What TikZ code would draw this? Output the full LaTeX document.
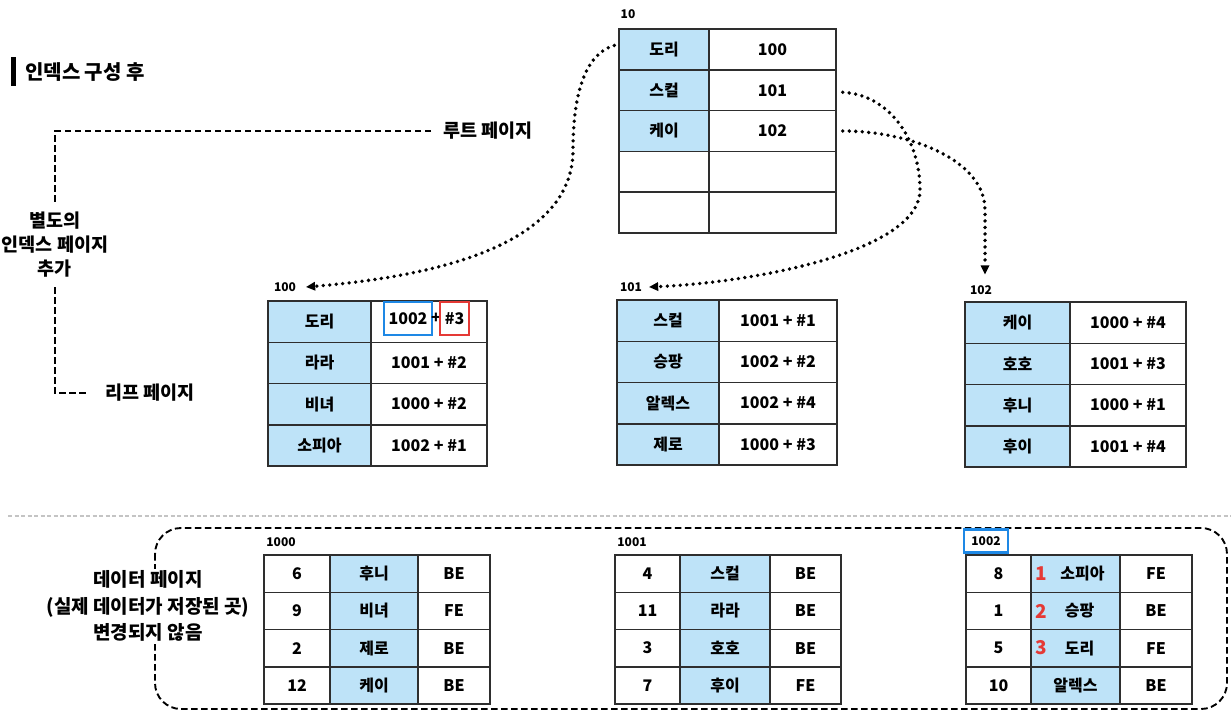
\documentclass[tikz,border=0pt]{standalone}
\usepackage{fontspec}
\setmainfont{Noto Sans CJK KR}
\usetikzlibrary{arrows.meta}
\definecolor{keyblue}{HTML}{BEE3F8}
\definecolor{edgegray}{HTML}{2E2E2E}
\definecolor{hlblue}{HTML}{1E88E5}
\definecolor{hlred}{HTML}{E53935}
\definecolor{sepgray}{HTML}{C4C4C4}

\tikzset{
  cellbase/.style={draw=edgegray, line width=1.5pt, inner sep=0pt, font=\bfseries\fontsize{16}{18}\selectfont},
  keycell/.style={cellbase, fill=keyblue},
  valcell/.style={cellbase, fill=white},
  pagelbl/.style={font=\bfseries\fontsize{12}{14}\selectfont, inner sep=1pt},
  ptr/.style={line width=3.8pt, dash pattern=on 0pt off 6.5pt, line cap=round,
    -{Triangle[length=9pt,width=9pt,line width=0pt]}},
  bracket/.style={line width=1.9pt, dash pattern=on 6.5pt off 3.5pt},
  sidetext/.style={font=\bfseries\fontsize{18.5}{24}\selectfont, align=center},
  datatext/.style={font=\bfseries\fontsize{19}{26.5}\selectfont, align=center},
  rednum/.style={font=\bfseries\fontsize{19}{20}\selectfont, text=hlred, inner sep=0pt},
}

\newcommand\tcell[7]{%
  \pgfmathsetmacro\cw{#4-#3}%
  \pgfmathsetmacro\ch{#6-#5}%
  \pgfmathsetmacro\cx{(#3+#4)/2}%
  \pgfmathsetmacro\cy{(#5+#6)/2}%
  \node[#1, minimum width=\cw pt, minimum height=\ch pt] (#2) at (\cx,\cy) {#7};}

% prefix, xl, xs, xr, ytop, rowheight, list key/val
\newcommand\kvpage[7]{%
  \foreach \k/\v [count=\i] in {#7} {%
    \pgfmathsetmacro\yt{#5+(\i-1)*#6}%
    \pgfmathsetmacro\yb{#5+\i*#6}%
    \tcell{keycell}{#1k\i}{#2}{#3}{\yt}{\yb}{\k}
    \tcell{valcell}{#1v\i}{#3}{#4}{\yt}{\yb}{\v}
  }}

% prefix, x1, x2, x3, x4, list n/name/type
\newcommand\datapage[6]{%
  \foreach \n/\nm/\t [count=\i] in {#6} {%
    \pgfmathsetmacro\yt{555+(\i-1)*37.25}%
    \pgfmathsetmacro\yb{555+\i*37.25}%
    \tcell{valcell}{#1a\i}{#2}{#3}{\yt}{\yb}{\n}
    \tcell{keycell}{#1b\i}{#3}{#4}{\yt}{\yb}{\nm}
    \tcell{valcell}{#1c\i}{#4}{#5}{\yt}{\yb}{\t}
  }}

\begin{document}
\begin{tikzpicture}[x=1pt, y=-1pt]
\useasboundingbox[fill=white] (0,0) rectangle (1231,715);

% title
\node[fill=black, minimum width=5pt, minimum height=29pt, inner sep=0pt] (tbar) at (13.5,71.5) {};
\node[font=\bfseries\fontsize{20}{22}\selectfont, anchor=west, inner sep=0pt] (title) at (25,72) {인덱스 구성 후};

% root page
\node[pagelbl] (p10) at (628,14) {10};
\kvpage{r}{619}{709}{836}{29}{40.8}{도리/100,스컬/101,케이/102}
\tcell{valcell}{rk4}{619}{709}{151.4}{192.2}{}
\tcell{valcell}{rv4}{709}{836}{151.4}{192.2}{}
\tcell{valcell}{rk5}{619}{709}{192.2}{233}{}
\tcell{valcell}{rv5}{709}{836}{192.2}{233}{}

% leaf pages
\node[pagelbl] (p100) at (285,287) {100};
\node[pagelbl] (p101) at (631,287) {101};
\node[pagelbl] (p102) at (981,290) {102};
\kvpage{a}{268}{371}{487}{301}{41.25}{도리/,라라/1001 + \#2,비녀/1000 + \#2,소피아/1002 + \#1}
\kvpage{b}{617}{719}{837}{300}{41.25}{스컬/1001 + \#1,승팡/1002 + \#2,알렉스/1002 + \#4,제로/1000 + \#3}
\kvpage{c}{965}{1070}{1186}{302}{41.25}{케이/1000 + \#4,호호/1001 + \#3,후니/1000 + \#1,후이/1001 + \#4}

% highlighted pointer in leaf 100
\node[cellbase, draw=hlblue, line width=2.2pt, fill=none, minimum width=48pt, minimum height=33pt] (hlpage) at (408,318.5) {1002};
\node[cellbase, draw=none, fill=none] (hlplus) at (436,318.5) {+};
\node[cellbase, draw=hlred, line width=2.2pt, fill=none, minimum width=29pt, minimum height=33pt] (hlslot) at (454.5,318.5) {\#3};

% pointers root -> leaves
\draw[ptr] ([shift={(-4pt,4pt)}]rk1.west) .. controls (587,53) and (573,90) .. (573,150)
  .. controls (573,240) and (450,275) .. ([xshift=9pt]p100.east);
\draw[ptr] ([xshift=6pt,yshift=-2pt]rv2.east) .. controls (890,95) and (920,140) .. (920,190)
  .. controls (920,250) and (760,282) .. ([xshift=6pt]p101.east);
\draw[ptr] ([xshift=6pt]rv3.east) .. controls (910,131) and (985,160) .. (985,210)
  -- ([xshift=4pt,yshift=10pt]p102.north);

% side annotations
\node[sidetext, anchor=west, inner sep=0pt] (rootlbl) at (443,131) {루트 페이지};
\node[sidetext] (sidelbl) at (55,245) {별도의\\인덱스 페이지\\추가};
\node[sidetext, anchor=west, inner sep=0pt] (leaflbl) at (105,393) {리프 페이지};
\draw[bracket, shorten <=12pt] (rootlbl.west) -| ([yshift=40pt]sidelbl.center);
\draw[bracket, shorten >=16pt] ([yshift=-42pt]sidelbl.center) |- (leaflbl.west);

% separator
\draw[sepgray, line width=1.2pt, dash pattern=on 4pt off 2.5pt] (8,516) -- (1231,516);

% data pages
\draw[bracket, rounded corners=26pt] (155,528) rectangle (1227,709);
\node[datatext, fill=white, inner sep=2pt] (datalbl) at (148,606) {데이터 페이지\\(실제 데이터가 저장된 곳)\\변경되지 않음};

\node[pagelbl] (d1000) at (281,542) {1000};
\node[pagelbl] (d1001) at (632,542) {1001};
\node[pagelbl, draw=hlblue, line width=2.2pt, minimum width=44pt, minimum height=23pt] (d1002) at (986,541) {1002};

\datapage{x}{264}{330}{418}{490}{6/후니/BE,9/비녀/FE,2/제로/BE,12/케이/BE}
\datapage{y}{615}{680}{770}{841}{4/스컬/BE,11/라라/BE,3/호호/BE,7/후이/FE}
\datapage{z}{966}{1031}{1120}{1192}{8/\hspace{14pt}소피아/FE,1/\hspace{8pt}승팡/BE,5/\hspace{8pt}도리/FE,10/알렉스/BE}

\node[rednum] (red1) at (1041,574) {1};
\node[rednum] (red2) at (1041,611) {2};
\node[rednum] (red3) at (1041,648) {3};
\end{tikzpicture}
\end{document}
